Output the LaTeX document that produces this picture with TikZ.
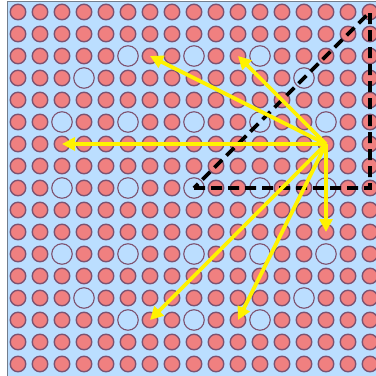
\documentclass[tikz,border=0pt]{standalone}
\usetikzlibrary{arrows.meta}
\definecolor{bgblue}{RGB}{187,222,255}
\definecolor{atomfill}{RGB}{240,128,128}
\definecolor{atomline}{RGB}{125,82,112}
\definecolor{framegray}{RGB}{115,125,140}
\foreach \p in {5-2,8-2,11-2,3-3,13-3,2-5,5-5,8-5,11-5,14-5,2-8,5-8,8-8,11-8,14-8,2-11,5-11,8-11,11-11,14-11,3-13,13-13,5-14,8-14,11-14}{\expandafter\gdef\csname vac-\p\endcsname{}}
\tikzset{
  atom/.style={circle,draw=atomline,line width=1.4pt,fill=atomfill,minimum size=15.5pt,inner sep=0pt},
  vacancy/.style={circle,draw=atomline,line width=1.1pt,minimum size=20.5pt,inner sep=0pt},
  hop/.style={yellow,line width=3.8pt,-{Triangle[length=13pt,width=13pt]}},
  cell/.style={black,line width=3.8pt,dash pattern=on 11pt off 6pt}
}
\begin{document}
\begin{tikzpicture}[x=1pt,y=-1pt]
\useasboundingbox (0,0) rectangle (376,376);
\fill[white] (0,0) rectangle (376,376);
\fill[bgblue] (7,1) rectangle (376,376);
\begin{scope}
\clip (7,1) rectangle (376,376);
\foreach \c in {0,...,16}{
  \foreach \r in {0,...,16}{
    \ifcsname vac-\c-\r\endcsname
      \node[vacancy] (a-\c-\r) at ({18+22*\c},{12+22*\r}) {};
    \else
      \node[atom] (a-\c-\r) at ({18+22*\c},{12+22*\r}) {};
    \fi
  }
}
\end{scope}
\draw[framegray,line width=1pt] (7,376) -- (7,1) -- (376,1);
\draw[cell] (a-8-8.center) -- (a-16-8.center) -- (a-16-0.center) -- cycle;
\foreach \t in {6-2,10-2,2-6,14-10,6-14,10-14}{
  \draw[hop] (a-14-6.center) -- (a-\t.center);
}
\end{tikzpicture}
\end{document}
